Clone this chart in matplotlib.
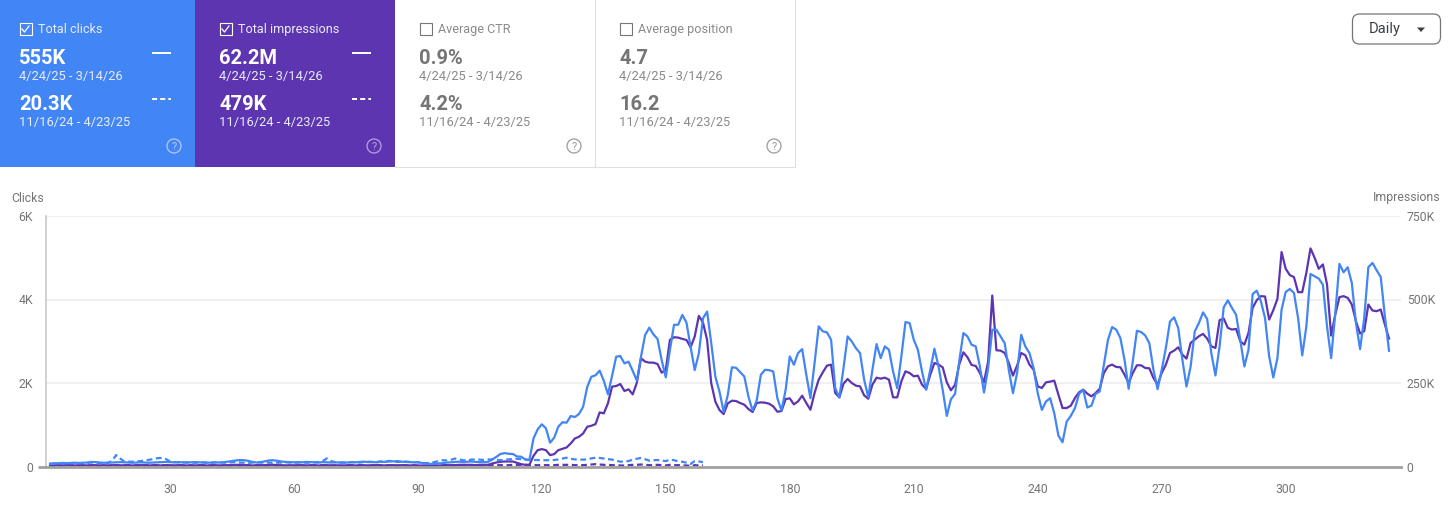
import matplotlib
matplotlib.use("Agg")
import matplotlib.pyplot as plt
import numpy as np
from matplotlib.patches import Circle, FancyBboxPatch, Polygon, Rectangle

plt.rcParams["font.family"] = ["Roboto", "DejaVu Sans"]

# clicks per day, 4/24/25 - 3/14/26
clicks = [
    70, 75, 80, 85, 80, 85, 90, 85, 90, 95,
    110, 105, 95, 90, 90, 95, 100, 105, 100, 95,
    90, 95, 100, 95, 90, 95, 100, 105, 110, 105,
    100, 105, 100, 95, 100, 105, 100, 95, 90, 95,
    100, 95, 100, 115, 130, 145, 155, 150, 135, 110,
    95, 105, 125, 145, 150, 135, 120, 110, 105, 100,
    105, 100, 110, 105, 100, 95, 105, 100, 95, 100,
    95, 90, 95, 105, 100, 110, 115, 105, 110, 100,
    115, 110, 120, 125, 110, 115, 110, 105, 100, 105,
    85, 70, 60, 65, 75, 80, 95, 100, 110, 115,
    105, 115, 120, 110, 105, 105, 110, 170, 230, 300,
    320, 305, 300, 240, 235, 170, 155, 675, 890, 1010,
    915, 570, 690, 955, 1060, 1050, 1210, 1185, 1258, 1430,
    1910, 2150, 2185, 2295, 2055, 1730, 2170, 2630, 2645, 2470,
    2510, 2290, 2055, 2630, 3150, 3325, 3165, 3055, 2550, 2135,
    2790, 3395, 3395, 3630, 3450, 2870, 2310, 2710, 3550, 3710,
    2955, 2150, 1790, 1310, 1710, 2375, 2365, 2260, 2156, 1676,
    1340, 1580, 2196, 2316, 2308, 2276, 1636, 1340, 1836, 2636,
    2436, 2716, 2812, 2196, 1636, 2476, 3356, 3236, 3212, 3036,
    1876, 1652, 2356, 3116, 2996, 2836, 2716, 2076, 1660, 2316,
    2932, 2596, 2876, 2796, 2276, 1876, 2636, 3460, 3436, 3036,
    2796, 2276, 1836, 2316, 2820, 2396, 1836, 1212, 1612, 1740,
    2516, 3196, 3116, 2916, 2876, 2396, 1772, 2356, 3276, 3276,
    3116, 2956, 2316, 1756, 2236, 3156, 2876, 2716, 2356, 1756,
    1356, 1556, 1636, 1276, 740, 580, 1076, 1212, 1396, 1740,
    1836, 1412, 1460, 1740, 1796, 2436, 3036, 3340, 3276, 3076,
    2556, 1860, 2516, 3252, 3220, 3140, 2956, 2316, 1852, 2316,
    2836, 3472, 3572, 3316, 2556, 1916, 2396, 3236, 3436, 3692,
    3532, 2716, 2180, 2876, 3812, 3980, 3796, 3636, 3036, 2396,
    2796, 4132, 4212, 3956, 3556, 2636, 2132, 2596, 3756, 4180,
    4252, 4156, 3556, 2660, 3356, 4612, 4556, 4500, 4356, 3356,
    2596, 3676, 4852, 4652, 4772, 4396, 3436, 2812, 3556, 4772,
    4876, 4700, 4540, 3596, 2772,
]

# impressions per day, in thousands
impressions = [
    3, 3, 4, 3, 4, 4, 3, 4, 4, 3,
    4, 4, 3, 4, 3, 4, 4, 3, 4, 4,
    3, 4, 4, 4, 3, 4, 4, 3, 4, 4,
    3, 4, 4, 3, 4, 3, 4, 4, 3, 4,
    4, 3, 4, 4, 4, 5, 5, 4, 4, 3,
    4, 4, 4, 5, 5, 4, 4, 3, 4, 3,
    4, 4, 3, 4, 4, 3, 4, 4, 3, 4,
    3, 3, 4, 4, 3, 4, 4, 3, 4, 4,
    4, 3, 4, 4, 3, 4, 4, 3, 4, 3,
    3, 3, 2, 3, 3, 3, 4, 4, 4, 5,
    5, 5, 5, 4, 5, 5, 5, 9, 12, 14,
    15, 15, 15, 11, 7, 5, 5, 32, 49, 52,
    49, 34, 37, 49, 53, 57, 69, 84, 89, 99,
    119, 122, 127, 162, 159, 189, 239, 241, 247, 226,
    231, 216, 251, 324, 314, 311, 311, 307, 281, 289,
    379, 387, 386, 382, 379, 357, 389, 451, 431, 379,
    249, 194, 169, 157, 189, 197, 196, 190, 185, 172,
    163, 190, 192, 191, 188, 180, 164, 166, 202, 204,
    186, 195, 212, 190, 170, 220, 260, 282, 302, 305,
    220, 207, 248, 262, 250, 242, 240, 213, 203, 245,
    266, 263, 266, 260, 207, 207, 255, 285, 280, 270,
    272, 245, 232, 275, 310, 305, 297, 252, 228, 245,
    305, 342, 327, 304, 301, 280, 252, 315, 512, 348,
    347, 340, 310, 272, 302, 340, 333, 305, 290, 240,
    235, 252, 254, 257, 215, 175, 175, 182, 205, 222,
    230, 218, 210, 220, 233, 280, 300, 305, 298, 297,
    275, 250, 280, 303, 303, 295, 294, 265, 245, 280,
    305, 340, 347, 357, 335, 323, 370, 380, 390, 397,
    383, 360, 355, 438, 443, 415, 410, 412, 375, 365,
    400, 475, 498, 510, 509, 440, 468, 502, 642, 592,
    573, 567, 522, 522, 580, 653, 625, 592, 605, 545,
    392, 455, 507, 510, 505, 485, 435, 398, 405, 485,
    467, 465, 470, 425, 383,
]

# previous period, 11/16/24 - 4/23/25
prev_clicks = [
    60, 65, 70, 75, 70, 80, 85, 75, 80, 85,
    95, 90, 85, 80, 90, 130, 275, 190, 120, 115,
    115, 120, 130, 145, 160, 180, 200, 205, 180, 125,
    105, 100, 95, 100, 95, 90, 95, 100, 95, 90,
    95, 100, 95, 90, 100, 105, 95, 90, 85, 95,
    100, 95, 90, 95, 85, 90, 95, 100, 95, 90,
    95, 100, 90, 95, 100, 105, 130, 195, 130, 105,
    95, 100, 95, 105, 100, 95, 110, 115, 105, 110,
    120, 115, 135, 125, 130, 115, 120, 110, 105, 100,
    85, 80, 90, 105, 130, 150, 145, 160, 190, 170,
    150, 145, 165, 170, 165, 155, 170, 165, 160, 150,
    165, 170, 180, 185, 175, 165, 155, 155, 155, 150,
    150, 150, 155, 170, 190, 210, 185, 170, 165, 165,
    170, 195, 210, 205, 190, 175, 165, 140, 115, 120,
    130, 165, 185, 205, 175, 140, 150, 155, 140, 130,
    165, 150, 125, 115, 90, 60, 130, 120, 105,
]

prev_impressions = [
    2, 2, 3, 2, 2, 3, 2, 2, 3, 2,
    3, 2, 2, 3, 2, 3, 4, 3, 3, 3,
    3, 2, 3, 3, 3, 3, 3, 4, 3, 3,
    2, 3, 2, 2, 3, 2, 2, 3, 2, 2,
    3, 2, 2, 3, 2, 3, 2, 2, 3, 2,
    3, 2, 2, 3, 2, 2, 3, 2, 2, 3,
    2, 3, 2, 2, 3, 3, 3, 4, 3, 2,
    3, 2, 3, 3, 2, 3, 3, 2, 3, 3,
    3, 3, 3, 3, 3, 3, 3, 2, 3, 2,
    2, 2, 2, 3, 3, 4, 4, 4, 4, 4,
    4, 3, 4, 4, 4, 3, 4, 4, 4, 4,
    4, 4, 5, 5, 5, 5, 4, 4, 4, 4,
    4, 4, 4, 5, 5, 5, 5, 4, 4, 4,
    5, 6, 7, 6, 5, 5, 4, 4, 3, 3,
    4, 5, 5, 6, 5, 4, 4, 5, 4, 3,
    5, 4, 4, 3, 3, 2, 4, 3, 3,
]

click_ticks = [0, 2000, 4000, 6000]
click_tick_labels = ["0", "2K", "4K", "6K"]
impression_ticks = [0, 250, 500, 750]
impression_tick_labels = ["0", "250K", "500K", "750K"]
day_ticks = [30, 60, 90, 120, 150, 180, 210, 240, 270, 300]

# title, value, date, previous value, previous date
card_titles = ["Total clicks", "Total impressions", "Average CTR", "Average position"]
card_values = ["555K", "62.2M", "0.9%", "4.7"]
card_prev_values = ["20.3K", "479K", "4.2%", "16.2"]
card_dates = "4/24/25 - 3/14/26"
card_prev_dates = "11/16/24 - 4/23/25"

BLUE = "#4285f4"
PURPLE = "#5e35b1"
GREY = "#757575"

W, H = 1453, 517
fig = plt.figure(figsize=(W / 100, H / 100), dpi=100)

# chart axes, placed in pixels: x 46-1401, y 216-466.5
ax = fig.add_axes([46 / W, 1 - 466.5 / H, 1355 / W, 250.5 / H])
ax_imp = ax.twinx()
ax.set_zorder(ax_imp.get_zorder() + 1)
ax.patch.set_visible(False)

days = np.arange(1, len(clicks) + 1)
prev_days = np.arange(1, len(prev_clicks) + 1)

ax_imp.plot(prev_days, prev_impressions, color=PURPLE, lw=1.6, ls=(0, (2.6, 1.6)), clip_on=False)
ax_imp.plot(days, impressions, color=PURPLE, lw=1.6, clip_on=False)
ax.plot(prev_days, prev_clicks, color=BLUE, lw=1.6, ls=(0, (2.6, 1.6)), clip_on=False)
ax.plot(days, clicks, color=BLUE, lw=1.6, clip_on=False)

ax.set_xlim(0.032, 327.9)
ax.set_ylim(0, 6000)
ax_imp.set_ylim(0, 750)

ax.set_xticks(day_ticks)
ax.set_yticks(click_ticks, click_tick_labels)
ax_imp.set_yticks(impression_ticks, impression_tick_labels)
ax.tick_params(axis="x", length=0, pad=12, labelsize=8.8, labelcolor=GREY)
ax.tick_params(axis="y", length=0, pad=9.5, labelsize=8.8, labelcolor=GREY)
ax_imp.tick_params(axis="y", length=0, pad=4.2, labelsize=8.8, labelcolor=GREY)
ax_imp.yaxis.grid(True, color="#f0f0f0", lw=1.4)
ax_imp.set_axisbelow(True)

for a in (ax, ax_imp):
    for side in ("top", "right", "left", "bottom"):
        a.spines[side].set_visible(False)
ax_imp.spines["left"].set_visible(True)
ax_imp.spines["left"].set_color("#c8c8c8")
ax_imp.spines["left"].set_linewidth(1.2)
ax_imp.spines["bottom"].set_visible(True)
ax_imp.spines["bottom"].set_color("#a0a0a0")
ax_imp.spines["bottom"].set_linewidth(2)

# everything outside the plot is drawn in pixel coordinates
ui = fig.add_axes([0, 0, 1, 1], zorder=5)
ui.set_xlim(0, W)
ui.set_ylim(H, 0)
ui.axis("off")
ui.patch.set_visible(False)

ui.text(11, 198, "Clicks", fontsize=8.8, color=GREY, va="center")
ui.text(1441, 198, "Impressions", fontsize=8.8, color=GREY, va="center", ha="right")
ui.plot([38, 46], [466.5, 466.5], color="#a0a0a0", lw=2, solid_capstyle="butt")

card_left = [0, 195, 395, 595]
card_width = [195, 200, 200, 200]
for i, title in enumerate(card_titles):
    selected = i < 2
    left = card_left[i]
    text_x = left + 19 if i == 0 else left + 24
    if selected:
        ui.add_patch(Rectangle((left, 0), card_width[i], 167, color=[BLUE, PURPLE][i], lw=0))
    else:
        ui.plot([left + 199.5, left + 199.5], [0, 166.5], color="#e0e0e0", lw=0.8)
        ui.plot([left, left + 200], [166.5, 166.5], color="#e0e0e0", lw=0.8)
    main = "white" if selected else GREY
    soft = "#e8ecfb" if selected else "#8a8a8a"

    # checkbox
    ui.add_patch(Rectangle((text_x + 0.5, 23), 12, 12, fill=False, ec=main, lw=0.8))
    if selected:
        ui.plot([text_x + 3, text_x + 5.5, text_x + 10],
                [29, 32, 26], color=main, lw=0.9)
    ui.text(text_x + 19, 29.5, title, fontsize=9.1, color=soft, va="center")
    ui.text(text_x, 58.5, card_values[i], fontsize=14.5, fontweight="bold", color=main, va="center")
    ui.text(text_x, 76.5, card_dates, fontsize=9.3, color=soft, va="center")
    ui.text(text_x, 104.5, card_prev_values[i], fontsize=14.5, fontweight="bold", color=main, va="center")
    ui.text(text_x, 122.5, card_prev_dates, fontsize=9.3, color=soft, va="center")

    # line samples only on the selected cards
    if selected:
        sample_x = left + 152 if i == 0 else left + 157
        ui.plot([sample_x, sample_x + 19], [52.5, 52.5], color="white", lw=1.4, solid_capstyle="butt")
        ui.plot([sample_x, sample_x + 19], [98.5, 98.5], color="white", lw=1.4, ls=(0, (2.6, 1.6)))

    # help icon
    help_x = left + 174 if i == 0 else left + 179
    help_color = "#b9c9f7" if i == 0 else ("#b3a2dc" if i == 1 else "#9a9a9a")
    ui.add_patch(Circle((help_x, 146), 7, fill=False, ec=help_color, lw=0.9))
    ui.text(help_x, 146.5, "?", fontsize=8, color=help_color, ha="center", va="center")

# granularity dropdown
ui.add_patch(FancyBboxPatch((1352.5, 14), 88, 30, boxstyle="round,pad=0,rounding_size=7",
                            fill=False, ec="#757575", lw=0.9))
ui.text(1369, 29.5, "Daily", fontsize=10.6, color="#3c4043", va="center")
ui.add_patch(Polygon([[1417, 27.5], [1425, 27.5], [1421, 32]], color="#3c4043", lw=0))

fig.savefig("out.png", dpi=100)
